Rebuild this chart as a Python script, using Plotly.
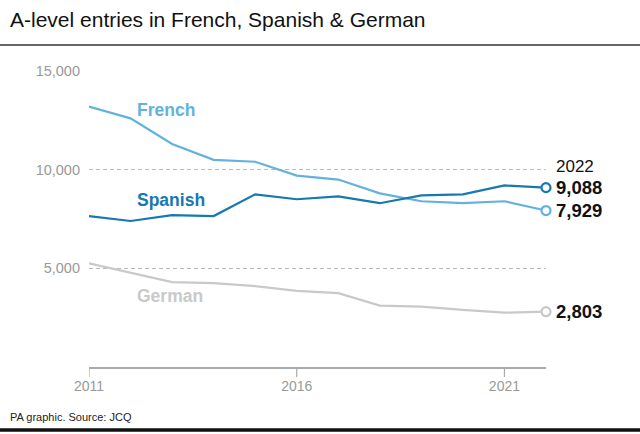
import plotly.graph_objects as go

years = list(range(2011, 2023))
french = [13200, 12600, 11300, 10500, 10400, 9700, 9500, 8800, 8400, 8300, 8400, 7929]
spanish = [7650, 7400, 7700, 7650, 8750, 8500, 8650, 8300, 8700, 8750, 9200, 9088]
german = [5250, 4780, 4300, 4250, 4100, 3860, 3740, 3110, 3060, 2890, 2755, 2803]

names = ["French", "Spanish", "German"]
colors = ["#63b2de", "#1878b0", "#c9c9c9"]
series = [french, spanish, german]
label_pos = [(2012.1, 13045), (2012.1, 8477), (2012.1, 3604)]
y_ticks = [5000, 10000, 15000]
y_ticktext = ["5,000", "10,000", "15,000"]
x_ticks = [2011, 2016, 2021]

FONT = "Liberation Sans"
PH = 296.0  # plot height in px, for paper-coordinate conversion
PW = 457.0

fig = go.Figure()
for name, col, vals in zip(names, colors, series):
    fig.add_trace(go.Scatter(
        x=years, y=vals, mode="lines", line=dict(color=col, width=2.2),
        showlegend=False, hoverinfo="skip", cliponaxis=False))
    fig.add_trace(go.Scatter(
        x=[years[-1]], y=[vals[-1]], mode="markers",
        marker=dict(size=9, color="white", line=dict(color=col, width=2.2)),
        showlegend=False, cliponaxis=False))

annotations = []
for name, col, (lx, ly) in zip(names, colors, label_pos):
    annotations.append(dict(x=lx, y=ly, xref="x", yref="y", text="<b>%s</b>" % name,
                            showarrow=False, xanchor="left", yanchor="middle",
                            font=dict(family=FONT, size=17.5, color=col)))
for vals in series:
    annotations.append(dict(x=years[-1], y=vals[-1], xref="x", yref="y",
                            text="<b>%s</b>" % format(vals[-1], ","),
                            showarrow=False, xanchor="left", yanchor="middle", xshift=8,
                            font=dict(family=FONT, size=18.5, color="#111")))
annotations.append(dict(x=years[-1], y=spanish[-1], xref="x", yref="y", text="2022",
                        showarrow=False, xanchor="left", yanchor="middle", xshift=8, yshift=21,
                        font=dict(family=FONT, size=17, color="#111")))
annotations.append(dict(x=-81 / PW, y=(367 - 20) / PH, xref="paper", yref="paper",
                        text="A-level entries in French, Spanish &amp; German",
                        showarrow=False, xanchor="left", yanchor="middle",
                        font=dict(family=FONT, size=21, color="#111")))
annotations.append(dict(x=-81 / PW, y=(367 - 417) / PH, xref="paper", yref="paper",
                        text="PA graphic. Source: JCQ",
                        showarrow=False, xanchor="left", yanchor="middle",
                        font=dict(family=FONT, size=11, color="#222")))

shapes = [
    dict(type="line", xref="paper", yref="paper", x0=-1, x1=2,
         y0=(367 - 45) / PH, y1=(367 - 45) / PH, line=dict(color="#333", width=1.5)),
    dict(type="line", xref="paper", yref="paper", x0=-1, x1=2,
         y0=(367 - 430) / PH, y1=(367 - 430) / PH, line=dict(color="#111", width=3.5)),
]
for t in x_ticks:
    shapes.append(dict(type="line", xref="x", yref="paper", x0=t, x1=t,
                       y0=0, y1=-10 / PH, line=dict(color="#aaa", width=1.2)))

fig.update_layout(
    width=640, height=434,
    margin=dict(l=89, r=94, t=71, b=67),
    plot_bgcolor="white", paper_bgcolor="white",
    annotations=annotations, shapes=shapes,
    xaxis=dict(range=[2011, 2022], tickvals=x_ticks, ticks="", ticklabelstandoff=5,
               showline=True, linecolor="#aaa", linewidth=1.5,
               showgrid=False, zeroline=False,
               tickfont=dict(family=FONT, size=14, color="#999")),
    yaxis=dict(range=[0, 15000], tickvals=y_ticks, ticktext=y_ticktext,
               showgrid=True, gridcolor="#bbb", griddash="4px,3px", gridwidth=1,
               zeroline=False, showline=False, ticks="", ticklabelstandoff=8,
               tickfont=dict(family=FONT, size=14.5, color="#999")),
)

fig.write_html("out.html", config={"displayModeBar": False},
               post_script="document.body.style.margin='0';document.body.style.overflow='hidden';")
